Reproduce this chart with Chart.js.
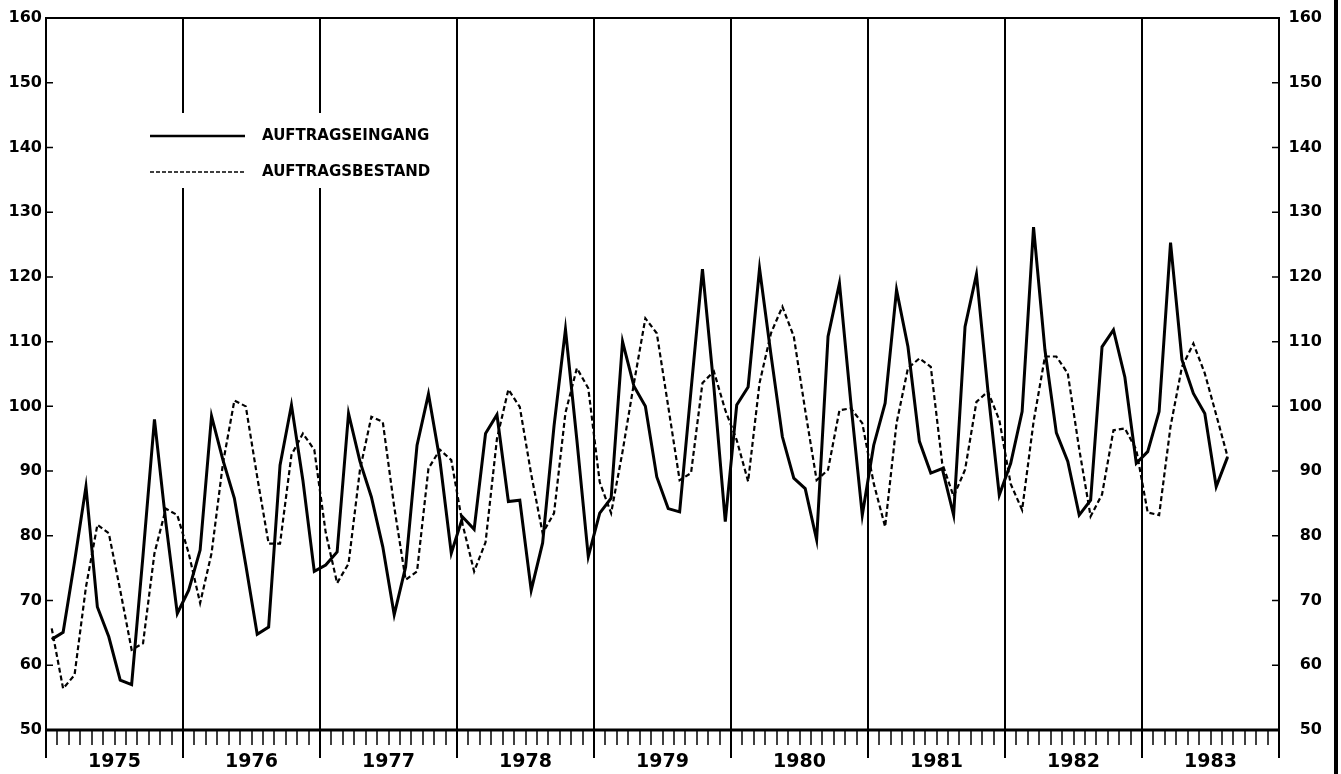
<!DOCTYPE html>
<html>
<head>
<meta charset="utf-8">
<script src="https://cdn.jsdelivr.net/npm/chart.js@4.4.0/dist/chart.umd.min.js"></script>
<style>
  html, body { margin: 0; padding: 0; background: #fff; }
  #wrap { position: relative; width: 1341px; height: 774px; }
  #rand { position: absolute; left: 1334px; top: 0; width: 4px; height: 774px; background: #000; }
</style>
</head>
<body>
<div id="wrap">
  <canvas id="auftragChart" width="1341" height="774"></canvas>
  <div id="rand"></div>
</div>
<script>
// Jahre auf der x-Achse (je 12 Monate)
const jahre = [1975, 1976, 1977, 1978, 1979, 1980, 1981, 1982, 1983];

// y-Achse
const yTicks = [50, 60, 70, 80, 90, 100, 110, 120, 130, 140, 150, 160];

// Monatswerte ab Januar 1975
const auftragseingang = [
  64.0, 65.1, 76.0, 87.6, 69.0, 64.4, 57.7, 57.0, 77.0, 98.0, 82.0, 68.0,
  71.6, 77.8, 98.5, 91.7, 85.8, 75.5, 64.8, 65.9, 90.9, 100.2, 88.6, 74.5,
  75.5, 77.5, 98.9, 91.5, 86.0, 78.3, 67.8, 75.2, 94.0, 101.9, 91.7, 77.3,
  82.9, 81.0, 95.8, 98.7, 85.3, 85.5, 71.6, 78.9, 97.0, 111.9, 94.8, 76.8,
  83.5, 85.8, 110.0, 103.1, 100.0, 89.1, 84.2, 83.7, 102.5, 121.2, 103.0, 82.2,
  100.2, 103.0, 121.3, 108.0, 95.3, 88.9, 87.3, 79.4, 110.8, 119.0, 100.5, 83.2,
  94.0, 100.5, 118.0, 109.2, 94.6, 89.7, 90.4, 83.2, 112.3, 120.4, 102.5, 86.3,
  91.2, 99.2, 127.7, 108.7, 95.9, 91.5, 83.2, 85.5, 109.2, 111.8, 104.5, 91.2,
  93.0, 99.2, 125.3, 107.2, 102.0, 98.9, 87.6, 92.2
];

const auftragsbestand = [
  65.7, 56.4, 58.5, 72.1, 81.7, 80.4, 71.6, 62.4, 63.4, 77.3, 84.2, 83.2,
  77.3, 69.6, 77.3, 91.2, 100.9, 100.0, 89.1, 78.8, 78.8, 92.5, 95.8, 93.3,
  80.5, 72.7, 75.7, 90.2, 98.4, 97.6, 84.5, 73.2, 74.5, 90.4, 93.3, 91.7,
  81.7, 74.5, 79.0, 95.0, 102.6, 99.9, 89.5, 80.4, 83.5, 99.0, 105.9, 102.8,
  88.3, 83.5, 93.0, 103.6, 113.6, 111.3, 100.0, 88.6, 89.7, 103.6, 105.4, 99.4,
  94.8, 88.4, 103.6, 111.3, 115.4, 110.8, 99.4, 88.6, 90.2, 99.4, 99.7, 97.4,
  88.1, 81.4, 97.4, 105.9, 107.4, 106.1, 91.2, 86.1, 90.2, 100.7, 102.3, 97.9,
  88.0, 84.0, 97.6, 107.7, 107.7, 105.1, 93.4, 83.0, 86.4, 96.3, 96.6, 93.3,
  83.6, 83.2, 96.9, 106.1, 109.7, 105.1, 98.7, 92.2
];

const monate = jahre.length * 12;
const schrift = 'DejaVu Sans';

// Punkte in der Monatsmitte
function punkte(werte) {
  return werte.map((v, i) => ({ x: i + 0.5, y: v }));
}

// Rahmen, Jahresstriche unter der Achse, Innenstriche an den y-Achsen
const rahmenPlugin = {
  id: 'rahmen',
  afterDraw(chart) {
    const { ctx, chartArea } = chart;
    const xs = chart.scales.x;
    const ys = chart.scales.y;
    ctx.save();
    ctx.strokeStyle = '#000';
    ctx.lineWidth = 2;
    ctx.strokeRect(chartArea.left, chartArea.top, chartArea.right - chartArea.left, chartArea.bottom - chartArea.top);

    // untere Achse etwas kräftiger
    ctx.lineWidth = 3;
    ctx.beginPath();
    ctx.moveTo(chartArea.left, chartArea.bottom);
    ctx.lineTo(chartArea.right, chartArea.bottom);
    ctx.stroke();

    ctx.lineWidth = 2;
    ctx.beginPath();
    for (let m = 0; m <= monate; m += 12) {
      const x = xs.getPixelForValue(m);
      ctx.moveTo(x, chartArea.bottom);
      ctx.lineTo(x, chartArea.bottom + 28);
    }
    ctx.stroke();

    ctx.lineWidth = 1.5;
    ctx.beginPath();
    ys.ticks.forEach((t) => {
      const y = ys.getPixelForValue(t.value);
      ctx.moveTo(chartArea.left, y);
      ctx.lineTo(chartArea.left + 7, y);
      ctx.moveTo(chartArea.right - 7, y);
      ctx.lineTo(chartArea.right, y);
    });
    ctx.stroke();
    ctx.restore();
  }
};

// Legende im Diagramm, mit weissem Hintergrund
const legendePlugin = {
  id: 'legende',
  afterDatasetsDraw(chart) {
    const { ctx, chartArea } = chart;
    const x0 = chartArea.left + 94;
    const y0 = chartArea.top + 95;
    ctx.save();
    ctx.fillStyle = '#fff';
    ctx.fillRect(x0, y0, 305, 75);

    ctx.strokeStyle = '#000';
    ctx.lineWidth = 2.5;
    ctx.beginPath();
    ctx.moveTo(x0 + 10, y0 + 23);
    ctx.lineTo(x0 + 105, y0 + 23);
    ctx.stroke();

    ctx.lineWidth = 1.3;
    ctx.setLineDash([4, 2]);
    ctx.beginPath();
    ctx.moveTo(x0 + 10, y0 + 59);
    ctx.lineTo(x0 + 105, y0 + 59);
    ctx.stroke();
    ctx.setLineDash([]);

    ctx.fillStyle = '#000';
    ctx.font = 'bold 15px "' + schrift + '"';
    ctx.textBaseline = 'middle';
    ctx.fillText(chart.data.datasets[0].label, x0 + 122, y0 + 23);
    ctx.fillText(chart.data.datasets[1].label, x0 + 122, y0 + 59);
    ctx.restore();
  }
};

const ctx = document.getElementById('auftragChart').getContext('2d');

new Chart(ctx, {
  type: 'line',
  data: {
    datasets: [{
      label: 'AUFTRAGSEINGANG',
      data: punkte(auftragseingang),
      borderColor: '#000',
      borderWidth: 3,
      borderJoinStyle: 'miter',
      pointRadius: 0,
      tension: 0,
      fill: false
    }, {
      label: 'AUFTRAGSBESTAND',
      data: punkte(auftragsbestand),
      borderColor: '#000',
      borderWidth: 2.2,
      borderDash: [5, 3],
      pointRadius: 0,
      tension: 0,
      fill: false
    }]
  },
  options: {
    responsive: false,
    animation: false,
    devicePixelRatio: 1,
    layout: { padding: { left: 0, right: 19, top: 18, bottom: 0 } },
    plugins: {
      legend: { display: false },
      tooltip: { enabled: false }
    },
    scales: {
      x: {
        type: 'linear',
        min: 0,
        max: monate,
        afterBuildTicks: (scale) => {
          const t = [];
          for (let m = 0; m <= monate; m++) t.push({ value: m });
          scale.ticks = t;
        },
        afterFit: (scale) => { scale.height = 44; },
        border: { display: false },
        grid: {
          color: (c) => (c.tick && c.tick.value % 12 === 0) ? '#000' : 'rgba(0,0,0,0)',
          lineWidth: 2,
          tickColor: '#000',
          tickWidth: 1.5,
          tickLength: 15
        },
        ticks: {
          autoSkip: false,
          maxRotation: 0,
          padding: 6,
          color: '#000',
          font: { family: schrift, size: 19, weight: 'bold' },
          callback: (v) => (v % 12 === 6) ? String(jahre[(v - 6) / 12]) : ''
        }
      },
      y: {
        position: 'left',
        min: yTicks[0],
        max: yTicks[yTicks.length - 1],
        afterBuildTicks: (scale) => { scale.ticks = yTicks.map((v) => ({ value: v })); },
        afterFit: (scale) => { scale.width = 46; },
        border: { display: false },
        grid: { display: false, drawTicks: false },
        ticks: {
          padding: 4,
          color: '#000',
          font: { family: schrift, size: 16, weight: 'bold' }
        }
      },
      y2: {
        position: 'right',
        min: yTicks[0],
        max: yTicks[yTicks.length - 1],
        afterBuildTicks: (scale) => { scale.ticks = yTicks.map((v) => ({ value: v })); },
        afterFit: (scale) => { scale.width = 43; },
        border: { display: false },
        grid: { display: false, drawTicks: false },
        ticks: {
          crossAlign: 'far',
          padding: 4,
          color: '#000',
          font: { family: schrift, size: 16, weight: 'bold' }
        }
      }
    }
  },
  plugins: [legendePlugin, rahmenPlugin]
});
</script>
</body>
</html>
